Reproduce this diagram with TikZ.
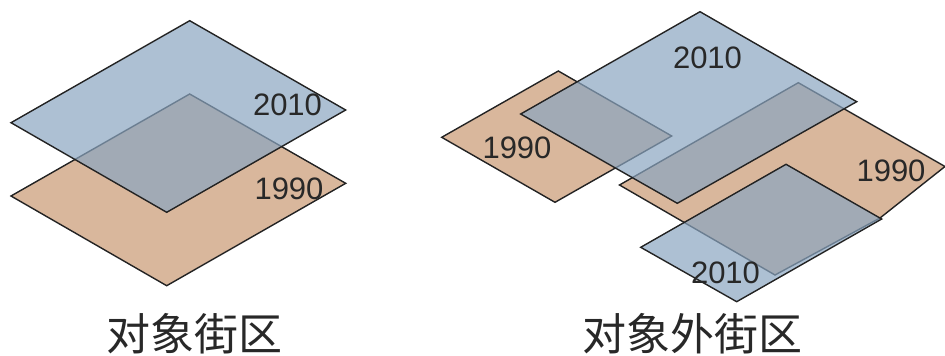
\documentclass[tikz,border=0pt]{standalone}
\usepackage{fontspec}
\setmainfont{Liberation Sans}
\newfontfamily\cjk{Noto Sans CJK SC}
\definecolor{orfill}{RGB}{217,183,156}
\definecolor{blfill}{RGB}{138,165,192}
\definecolor{edge}{RGB}{35,35,35}
\definecolor{txt}{RGB}{40,40,40}
\tikzset{
  orplane/.style={draw=edge, line width=1.4pt, line join=miter, fill=orfill},
  blplane/.style={draw=edge, line width=1.4pt, line join=miter, fill=blfill, fill opacity=0.7},
  yearlbl/.style={text=txt, font=\fontsize{31}{35}\selectfont, inner sep=0pt},
  titlelbl/.style={text=txt, font=\cjk\fontsize{44}{50}\selectfont, inner sep=0pt}
}
\begin{document}
\begin{tikzpicture}[x=1pt, y=-1pt]
\useasboundingbox (0,0) rectangle (945,356);
\clip (0,0) rectangle (945,356);
% left panel
\draw[orplane] (189.7,94) -- (345.7,183.3) -- (166.7,285.7) -- (11,196) -- cycle;
\draw[blplane] (189.7,20.7) -- (345.7,110) -- (166.7,212.3) -- (11,122.7) -- cycle;
\node[yearlbl] (l2010) at (287.5,105) {2010};
\node[yearlbl] (l1990) at (289,189) {1990};
% right panel
\draw[orplane] (558.3,71) -- (671.7,136) -- (555,202.3) -- (441.7,137.3) -- cycle;
\draw[orplane] (798.3,82.7) -- (945,166.5) -- (880,218) -- (775,275) -- (619.5,185) -- cycle;
\draw[blplane] (700,11.7) -- (856.7,101.7) -- (677.3,203.3) -- (520.7,114) -- cycle;
\draw[blplane] (786,164.3) -- (881.7,219) -- (736.7,301.7) -- (640.7,247.3) -- cycle;
\node[yearlbl] (r2010a) at (707.5,57.5) {2010};
\node[yearlbl] (r1990a) at (517,147.5) {1990};
\node[yearlbl] (r1990b) at (891,170.5) {1990};
\node[yearlbl] (r2010b) at (725.5,273) {2010};
% titles
\node[titlelbl] (ltitle) at (194.5,334) {对象街区};
\node[titlelbl] (rtitle) at (692,334) {对象外街区};
\end{tikzpicture}
\end{document}
